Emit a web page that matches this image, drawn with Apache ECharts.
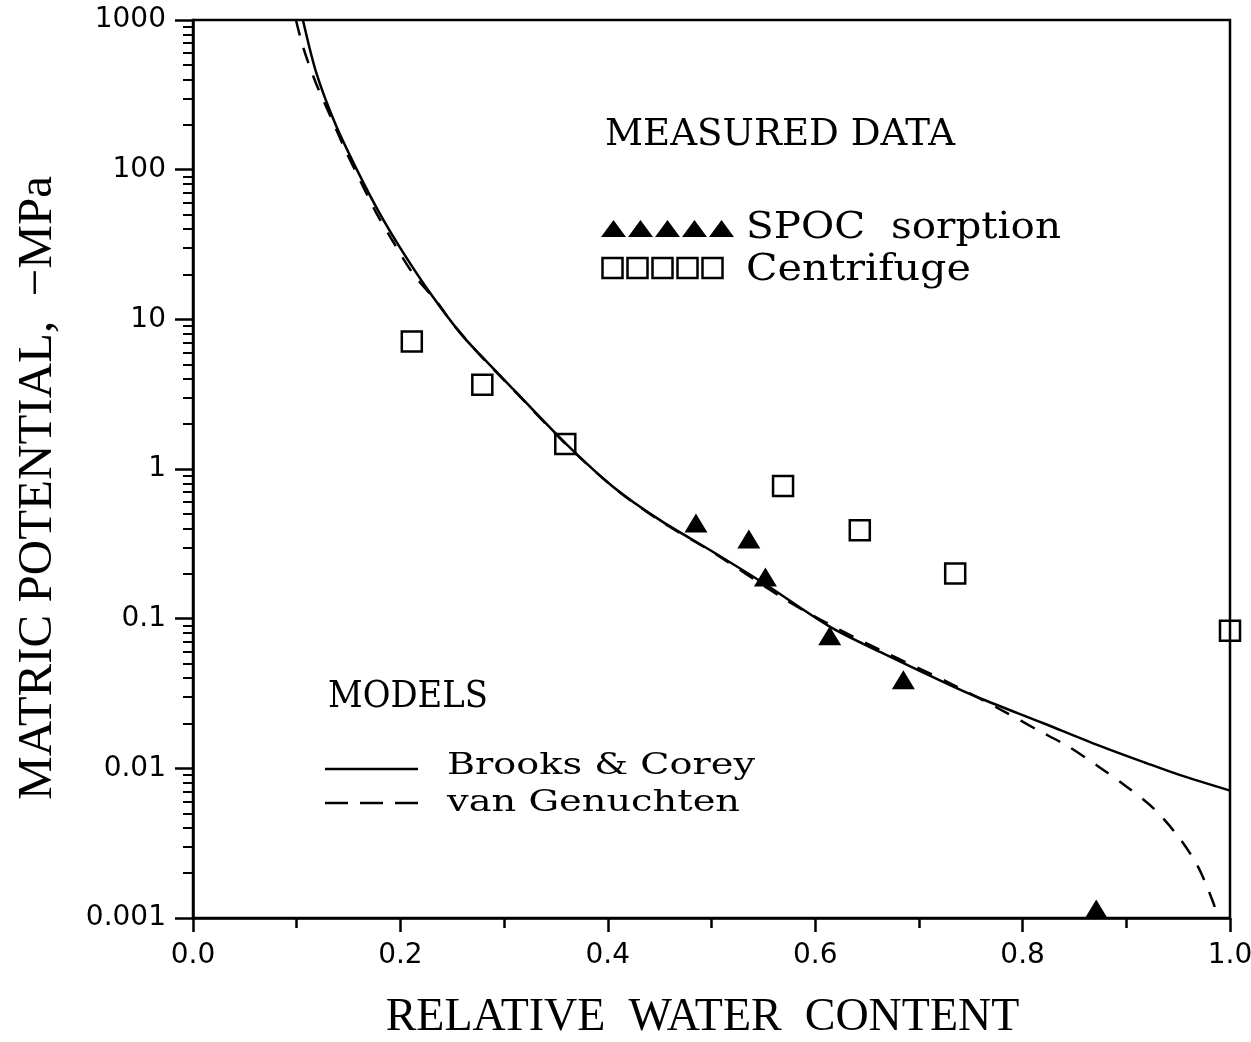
<!DOCTYPE html>
<html><head><meta charset="utf-8">
<script src="https://cdn.jsdelivr.net/npm/echarts@6/dist/echarts.min.js"></script>
<style>html,body{margin:0;padding:0;background:#fff}#c{width:1251px;height:1042px}</style>
</head><body><div id="c"></div>
<script>
// ---- data ----
const brooksCorey = [[0.106,1000],[0.119,441],[0.137,204],[0.158,100],[0.180,51],[0.203,27.7],[0.229,14.9],[0.259,7.9],[0.277,5.78],[0.309,3.4],[0.359,1.49],[0.405,0.762],[0.450,0.457],[0.502,0.278],[0.550,0.173],[0.614,0.0885],[0.6625,0.060],[0.730,0.036],[0.759,0.0294],[0.820,0.020],[0.868,0.0147],[0.920,0.0108],[0.952,0.0090],[1.0,0.0071]];
const vanGenuchten = [[0.0993,1000],[0.106,663],[0.118,387],[0.132,232],[0.147,135],[0.161,85],[0.177,51],[0.193,33],[0.212,20.3],[0.235,13.1],[0.253,8.9],[0.277,5.75],[0.309,3.38],[0.359,1.48],[0.405,0.76],[0.450,0.452],[0.502,0.276],[0.569,0.137],[0.600,0.103],[0.630,0.080],[0.661,0.0625],[0.730,0.037],[0.785,0.0234],[0.814,0.0181],[0.844,0.014],[0.873,0.0103],[0.900,0.00757],[0.926,0.00542],[0.950,0.00351],[0.969,0.00221],[0.984,0.00126],[0.988,0.001]];
const spocX = [0.485,0.536,0.552,0.614,0.685,0.871];
const spocY = [0.436,0.34,0.19,0.077,0.039,0.00115];
const centX = [0.211,0.279,0.359,0.569,0.643,0.735,1.0];
const centY = [7.1,3.65,1.47,0.77,0.39,0.20,0.083];
const yTickValues = [0.001,0.01,0.1,1,10,100,1000];
const yTickLabels = ['0.001','0.01','0.1','1','10','100','1000'];
const xTickValues = [0,0.2,0.4,0.6,0.8,1.0];
const xTickLabels = ['0.0','0.2','0.4','0.6','0.8','1.0'];

// minor log ticks
const yMinor = [];
for (let d = 0; d < yTickValues.length - 1; d++) {
  for (let m = 2; m <= 9; m++) yMinor.push(+(yTickValues[d] * m).toPrecision(6));
}

const cv = document.createElement('canvas').getContext('2d');
function fit(text, font, w) { cv.font = font; return w / cv.measureText(text).width; }
const SERIF = '"DejaVu Serif"';
function label(text, x, y, size, w) {
  const font = size + 'px ' + SERIF;
  return { type: 'text', x: x, y: y, scaleX: fit(text, font, w), z: 10,
    style: { text: text, font: font, fill: '#000', verticalAlign: 'middle', align: 'left' } };
}

const legendShapes = [];
for (let i = 0; i < 5; i++) {
  const l = 601 + i * 27;
  legendShapes.push({ type: 'polygon', z: 10, shape: { points: [[l, 237], [l + 12.5, 220], [l + 25, 237]] }, style: { fill: '#000' } });
  const c = 612.5 + i * 25;
  legendShapes.push({ type: 'rect', z: 10, shape: { x: c - 10, y: 258, width: 20, height: 20 }, style: { fill: 'none', stroke: '#000', lineWidth: 2.5 } });
}
legendShapes.push({ type: 'line', z: 10, shape: { x1: 325, y1: 769, x2: 418, y2: 769 }, style: { stroke: '#000', lineWidth: 2.5 } });
legendShapes.push({ type: 'line', z: 10, shape: { x1: 325, y1: 803, x2: 418, y2: 803 }, style: { stroke: '#000', lineWidth: 2.5, lineDash: [23, 12] } });

const chart = echarts.init(document.getElementById('c'), null, { renderer: 'canvas' });
chart.setOption({
  animation: false,
  backgroundColor: '#fff',
  grid: { left: 193, right: 21, top: 20, bottom: 124, containLabel: false, outerBoundsMode: 'none',
    show: true, borderColor: '#000', borderWidth: 2.5, backgroundColor: 'transparent' },
  xAxis: {
    type: 'value', min: 0, max: 1, interval: 0.2,
    name: 'RELATIVE  WATER  CONTENT', nameLocation: 'middle', nameGap: 77,
    nameTextStyle: { fontFamily: 'Liberation Serif', fontSize: 46, color: '#000', padding: [0, 18, 0, 0] },
    axisLine: { lineStyle: { color: '#000', width: 2.5 } },
    axisTick: { length: 14, inside: false, lineStyle: { color: '#000', width: 2.5 } },
    minorTick: { show: true, splitNumber: 2, length: 10, lineStyle: { color: '#000', width: 2.5 } },
    splitLine: { show: false },
    axisLabel: { margin: 24, fontFamily: 'DejaVu Sans', fontSize: 28, color: '#000', showMinLabel: true, showMaxLabel: true,
      formatter: v => { const i = xTickValues.findIndex(t => Math.abs(t - v) < 1e-9); return i >= 0 ? xTickLabels[i] : ''; } }
  },
  yAxis: [{
    type: 'log', min: 0.001, max: 1000, logBase: 10,
    name: 'MATRIC POTENTIAL,  \u2212MPa', nameLocation: 'middle', nameGap: 130,
    nameTextStyle: { fontFamily: 'Liberation Serif', fontSize: 49, color: '#000', padding: [0, 38, 0, 0] },
    axisLine: { show: true, lineStyle: { color: '#000', width: 2.5 } },
    axisTick: { show: true, length: 18, customValues: yTickValues, lineStyle: { color: '#000', width: 2.5 } },
    splitLine: { show: false },
    axisLabel: { margin: 27, customValues: yTickValues, fontFamily: 'DejaVu Sans', fontSize: 28, color: '#000', padding: [8, 0, 0, 0],
      formatter: v => { const i = yTickValues.findIndex(t => Math.abs(Math.log10(t) - Math.log10(v)) < 1e-6); return i >= 0 ? yTickLabels[i] : ''; } }
  }, {
    type: 'log', min: 0.001, max: 1000, logBase: 10, position: 'left',
    axisLine: { show: false },
    axisTick: { show: true, length: 10, customValues: yMinor, lineStyle: { color: '#000', width: 2 } },
    axisLabel: { show: false }, splitLine: { show: false }
  }],
  series: [
    { name: 'Brooks & Corey', type: 'line', data: brooksCorey, showSymbol: false, smooth: 0.3, clip: true,
      lineStyle: { color: '#000', width: 2.5 } },
    { name: 'van Genuchten', type: 'line', data: vanGenuchten, showSymbol: false, smooth: 0.3, clip: true,
      lineStyle: { color: '#000', width: 2.5, type: [16, 13] } },
    { name: 'SPOC sorption', type: 'scatter', data: spocX.map((x, i) => [x, spocY[i]]), symbol: 'triangle', symbolSize: [23, 19], clip: false,
      itemStyle: { color: '#000', opacity: 1 } },
    { name: 'Centrifuge', type: 'scatter', data: centX.map((x, i) => [x, centY[i]]), symbol: 'rect', symbolSize: 20, clip: false,
      itemStyle: { color: 'rgba(0,0,0,0)', borderColor: '#000', borderWidth: 2.5, opacity: 1 } }
  ],
  graphic: [
    label('MEASURED DATA', 605, 135, 37, 350),
    label('SPOC  sorption', 746, 228, 37, 315),
    label('Centrifuge', 746, 270, 37, 225),
    label('MODELS', 328, 697, 37, 160),
    label('Brooks & Corey', 447, 766, 29, 308),
    label('van Genuchten', 447, 803, 29, 293)
  ].concat(legendShapes)
});
</script></body></html>
